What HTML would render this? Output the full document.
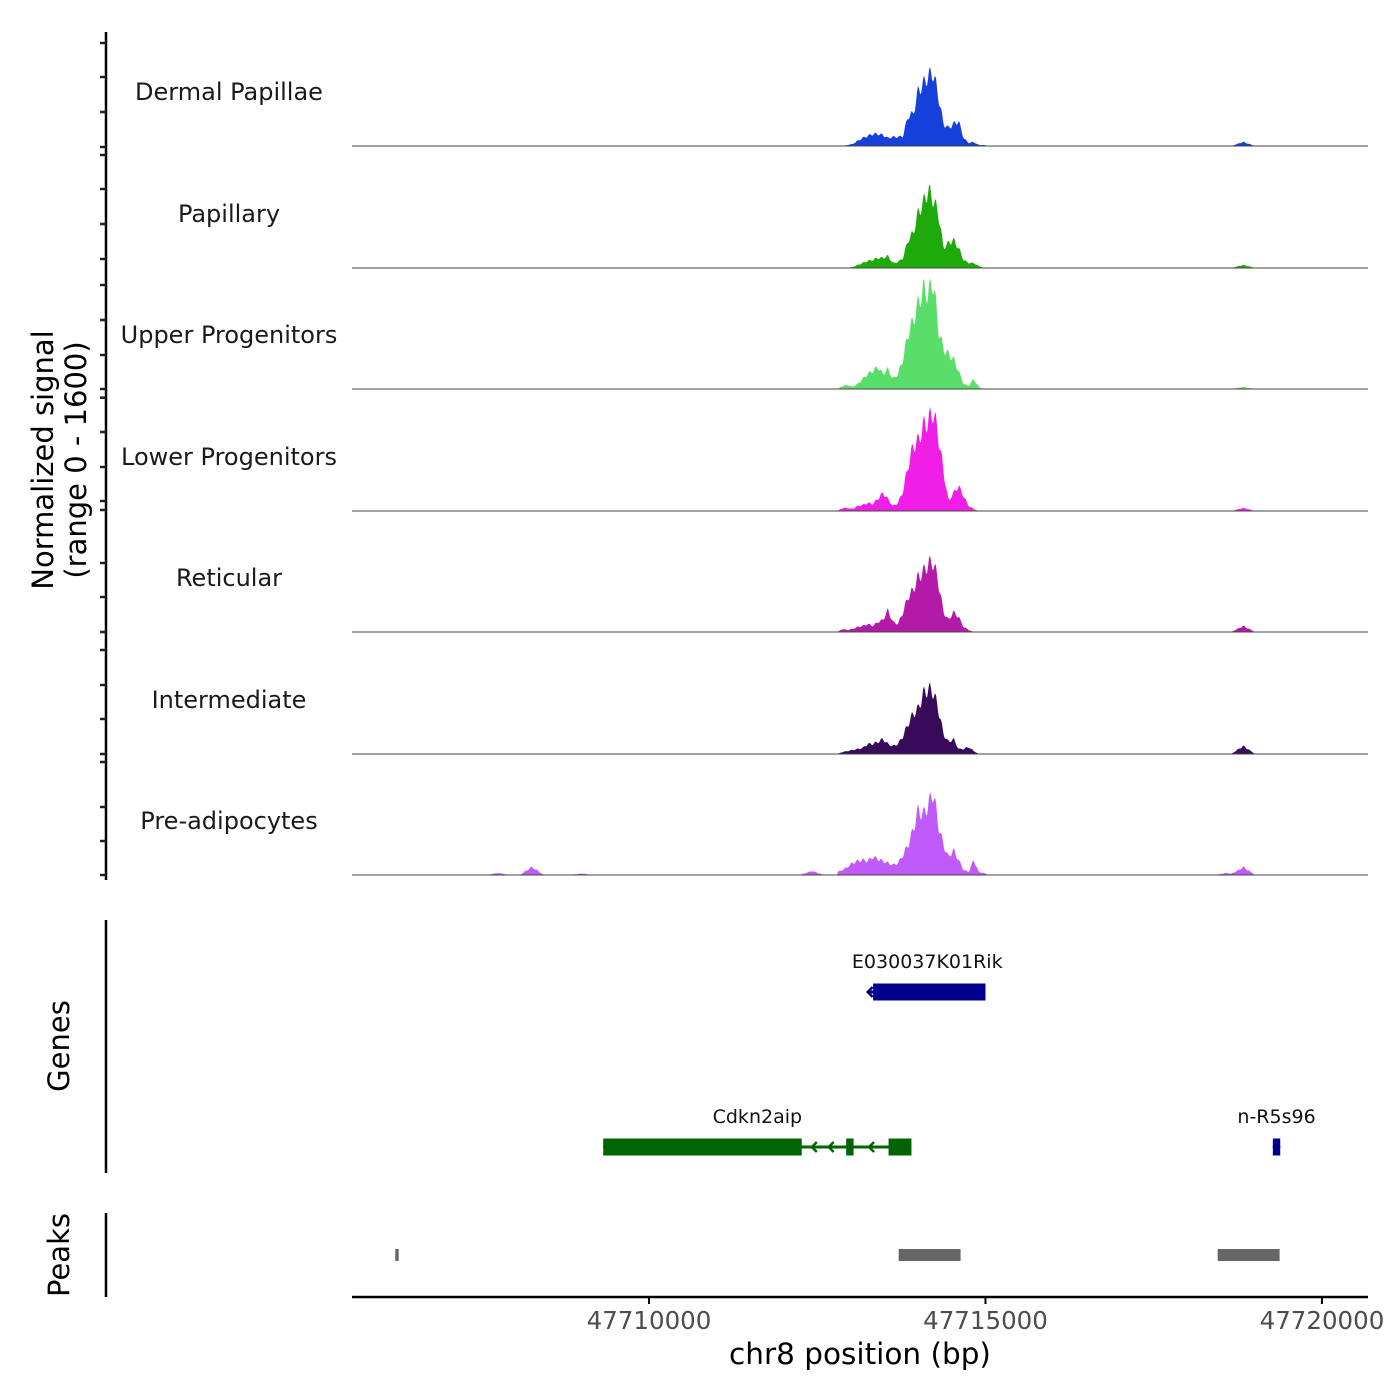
<!DOCTYPE html>
<html><head><meta charset="utf-8"><style>
body{margin:0;background:#fff}
svg{display:block;font-family:"DejaVu Sans","Liberation Sans",sans-serif}
</style></head><body>
<svg id="c" width="1400" height="1400" viewBox="0 0 1400 1400">
<g id="tracks"></g>
<g id="yaxis">
<line x1="106" y1="32" x2="106" y2="880" stroke="#000" stroke-width="2.5"/>
</g>
<text transform="translate(53,460) rotate(-90)" text-anchor="middle" font-size="29">Normalized signal</text>
<text transform="translate(86,460) rotate(-90)" text-anchor="middle" font-size="29">(range 0 - 1600)</text>
<g>
<line x1="106" y1="920" x2="106" y2="1173" stroke="#000" stroke-width="2.5"/>
<text transform="translate(69,1046) rotate(-90)" text-anchor="middle" font-size="29">Genes</text>
<g id="genes"></g>
</g>
<g>
<line x1="106" y1="1213" x2="106" y2="1297" stroke="#000" stroke-width="2.5"/>
<text transform="translate(69,1255) rotate(-90)" text-anchor="middle" font-size="29">Peaks</text>
<g id="peaks"></g>
</g>
<g id="xaxis">
<line x1="352" y1="1297" x2="1368" y2="1297" stroke="#000" stroke-width="2.5"/>
</g>
<text x="860" y="1364" text-anchor="middle" font-size="29.5">chr8 position (bp)</text>
</svg>
<script>
const NS="http://www.w3.org/2000/svg";
const trackNames=["Dermal Papillae","Papillary","Upper Progenitors","Lower Progenitors","Reticular","Intermediate","Pre-adipocytes"];
const trackColors=["#1540dc","#1eaa0a","#5ade6a","#f01ee6","#b41aa8","#380a5a","#c05af8"];
const gridStart=47712800, gridStep=75;
const dpVals=[0,0,1,2,5,8,10,12,12,11,8,9,9,10,30,32,55,62,70,73,50,22,18,22,25,8,3,4,1,1,0];
const papVals=[0,0,0,1,3,5,7,8,10,10,12,5,6,10,28,35,55,65,78,68,55,20,25,28,20,8,5,5,2,0,0];
const upVals=[0,3,4,2,5,10,15,18,22,15,20,10,15,30,55,68,85,100,95,108,60,40,35,30,18,5,3,10,2,0,0];
const lowVals=[0,3,3,2,5,6,8,7,12,18,12,5,8,20,45,65,70,85,90,100,75,40,10,18,25,15,5,2,0,0,0];
const retVals=[0,3,2,3,5,6,8,6,10,12,22,10,8,20,35,42,55,60,68,70,50,20,12,20,15,5,2,0,0,0,0];
const intVals=[0,2,3,4,5,6,10,10,12,15,10,8,10,18,30,40,45,60,65,62,45,20,12,15,5,5,7,3,0,0,0];
const preVals=[3,5,8,12,14,15,14,18,16,14,12,10,12,20,30,45,65,60,70,83,50,30,18,25,15,5,3,15,3,2,0];
const trackVals=[dpVals,papVals,upVals,lowVals,retVals,intVals,preVals];
const bumpTrack=[0,1,2,3,4,5,6,6,6,6,6,6];
const bumpPos=[47718830,47718830,47718830,47718830,47718830,47718830,47718830,47708260,47712420,47718580,47707760,47709000];
const bumpHeight=[4,3,2,3,6,8,8,8,4,2,2,1.5];
const xTicks=[47710000,47715000,47720000];
const yTickPix=[43,77,112,147,155,189,224,259,285,320,355,389,397.7,432,467,501,510,563,597,632,650,685,719,754,762,807,841,875];
const xMin=47705587, xMax=47720684;
const X=b=>352+(b-xMin)/(xMax-xMin)*1016;
const UNIT=13.2;
const Y=(v,base)=>base-(v*UNIT)*121/1600;
const baselines=[146,268,389,511,632,754,875];
function el(t,a,p){const e=document.createElementNS(NS,t);for(const k in a)e.setAttribute(k,a[k]);p.appendChild(e);return e;}
function valueAt(ti,b){
  const vals=trackVals[ti];let v=0;
  const f=(b-gridStart)/gridStep;
  if(f>=0&&f<vals.length-1){const i=Math.floor(f),r=f-i;v=vals[i]*(1-r)+vals[i+1]*r;}
  for(let k=0;k<bumpPos.length;k++){if(bumpTrack[k]!==ti)continue;const d=Math.abs(b-bumpPos[k]);if(d<180)v+=bumpHeight[k]*(1-d/180);}
  return v*(1+0.12*Math.sin(b*0.07));
}
const tg=document.getElementById('tracks');
trackNames.forEach((n,ti)=>{
  const g=el('g',{},tg);
  
  
  const base=baselines[ti];
  let d='M352,'+base;
  for(let px=352;px<=1368;px+=1){const b=xMin+(px-352)/1016*(xMax-xMin);d+=' L'+px+','+Y(valueAt(ti,b),base).toFixed(1);}
  d+=' L1368,'+base+' Z';
  const p=el('path',{d:d,fill:trackColors[ti]},g);
  
  
  const l=el('line',{x1:352,x2:1368,y1:base,y2:base,stroke:'#444','stroke-width':1},g);
  
  
  const t=el('text',{x:229,y:base-46,'text-anchor':'middle','font-size':24,fill:'#1a1a1a'},g);
  t.textContent=n;
  
  
});
const ya=document.getElementById('yaxis');
yTickPix.forEach(y=>{const t=el('line',{x1:100,x2:106,y1:y,y2:y,stroke:'#222','stroke-width':2.5},ya);
});
const xa=document.getElementById('xaxis');
xTicks.forEach(v=>{const x=X(v);
 const t=el('line',{x1:x,x2:x,y1:1297,y2:1304,stroke:'#000','stroke-width':2},xa);
 
 const tx=el('text',{x:x,y:1329,'text-anchor':'middle','font-size':24.5,fill:'#4d4d4d'},xa);tx.textContent=v;
 });
const gg=document.getElementById('genes');
const geneNames=["E030037K01Rik","Cdkn2aip","n-R5s96"];
const geneColors=["#00008b","#006400","#00008b"];
const geneRowY=[992,1147,1147];
const geneStart=[47713270,47709320,47719270];
const geneEnd=[47715000,47713900,47719380];
const exonGene=[0,1,1,1,2];
const exonStart=[47713330,47709320,47712930,47713560,47719270];
const exonEnd=[47715000,47712270,47713040,47713900,47719380];
const arrowGene=[0,1,1,1];
const arrowPos=[47713250,47712420,47712670,47713270];
geneNames.forEach((n,i)=>{
 const y=geneRowY[i];
 const ln=el('line',{x1:X(geneStart[i]),x2:X(geneEnd[i]),y1:y,y2:y,stroke:geneColors[i],'stroke-width':3},gg);
 
 const t=el('text',{x:(X(geneStart[i])+X(geneEnd[i]))/2,y:y-24,'text-anchor':'middle','font-size':19,fill:'#111'},gg);
 t.textContent=n;
});
exonStart.forEach((s,i)=>{const y=geneRowY[exonGene[i]];
 const r=el('rect',{x:X(s),y:y-8.5,width:X(exonEnd[i])-X(s),height:17,fill:geneColors[exonGene[i]]},gg);
 });
arrowPos.forEach((a,i)=>{const y=geneRowY[arrowGene[i]],x=X(a);
 const p=el('path',{d:`M${x+5},${y-5} L${x},${y} L${x+5},${y+5}`,fill:'none',stroke:geneColors[arrowGene[i]],'stroke-width':2.5},gg);
 });
const pg=document.getElementById('peaks');
const peakStart=[47706260,47713740,47718480];
const peakEnd=[47706310,47714660,47719400];
peakStart.forEach((s,i)=>{const r=el('rect',{x:X(s)-2,y:1249,width:Math.max(3,X(peakEnd[i])-X(s)),height:12,fill:'#666'},pg);
 });
</script>
</body></html>
